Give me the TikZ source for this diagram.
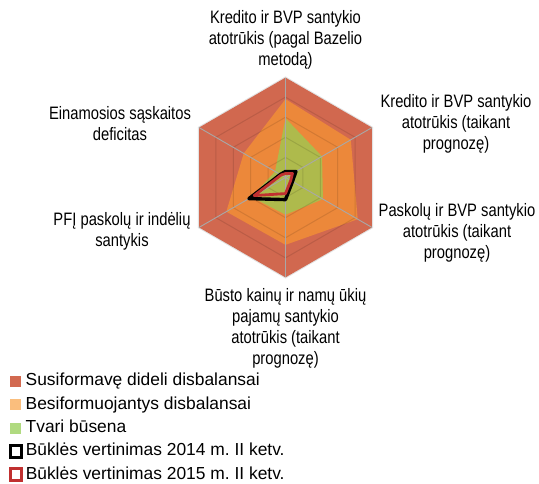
\documentclass[tikz,border=0pt]{standalone}
\usepackage{fontspec}
\setmainfont{Liberation Sans}
\newfontfamily\narrowfont[FakeStretch=0.82]{Liberation Sans}
\usetikzlibrary{positioning}
\frenchspacing

\definecolor{imbred}{RGB}{209,104,79}
\definecolor{imborange}{RGB}{236,136,58}
\definecolor{imbgreen}{RGB}{174,186,76}
\definecolor{legred}{RGB}{210,105,80}
\definecolor{legorange}{RGB}{250,190,125}
\definecolor{leggreen}{RGB}{176,218,128}
\definecolor{darkred15}{RGB}{192,48,48}
\definecolor{spokegray}{RGB}{168,168,168}

\tikzset{
  axislabel/.style={font=\narrowfont\fontsize{18}{21}\selectfont, align=center, inner sep=0pt},
  legtext/.style={font=\fontsize{17.4}{20}\selectfont, anchor=west, inner sep=0pt,
                  text height=12.5pt, text depth=3.6pt},
  legsw/.style={minimum size=11pt, inner sep=0pt},
  legframe/.style={minimum size=11.5pt, inner sep=0pt, line width=3pt, fill=white},
  ring/.style={black, opacity=0.11, line width=1pt},
  spoke/.style={spokegray, line width=0.9pt},
  series/.style={line width=3.4pt, line join=round}
}

\begin{document}
\begin{tikzpicture}[x=1pt, y=1pt, node distance=23.3pt]
\useasboundingbox (0,0) rectangle (539,-484);

\begin{scope}[shift={(285.5,-177.5)}, scale=100.5]
% corners of the hexagon
\coordinate (c) at (0,0);
\coordinate (a1) at (90:1);
\coordinate (a2) at (30:1);
\coordinate (a3) at (-30:1);
\coordinate (a4) at (-90:1);
\coordinate (a5) at (210:1);
\coordinate (a6) at (150:1);

% zones
\fill[imbred] (a1) -- (a2) -- (a3) -- (a4) -- (a5) -- (a6) -- cycle;
\fill[imborange] (90:.78) -- (30:.75) -- (-30:.83) -- (-90:.67) -- (210:.68) -- (150:.48) -- cycle;
\fill[imbgreen] (90:.59) -- (30:.42) -- (-30:.43) -- (-90:.37) -- (210:.39) -- (150:.12) -- cycle;

% grid
\foreach \r in {0.2,0.4,0.6,0.8,1}
  \draw[ring] (90:\r) -- (30:\r) -- (-30:\r) -- (-90:\r) -- (210:\r) -- (150:\r) -- cycle;
\draw[spoke] (a1) -- (a4);
\draw[spoke] (a2) -- (a5);
\draw[spoke] (a3) -- (a6);

% 2014 and 2015
\draw[series, black] (90:.06) -- (30:.12) -- (-30:.08) -- (-90:.22) -- (210:.42) -- (150:.06) -- cycle;
\draw[series, darkred15, line width=2.8pt] (90:.04) -- (30:.08) -- (-30:.06) -- (-90:.16) -- (210:.36) -- (150:.05) -- cycle;
\end{scope}

% axis labels
\node[axislabel] (ltop) at (285.5,-40) {Kredito ir BVP santykio\\atotrūkis (pagal Bazelio\\metodą)};
\node[axislabel] (lur) at (456,-124) {Kredito ir BVP santykio\\atotrūkis (taikant\\prognozę)};
\node[axislabel] (llr) at (457,-233) {Paskolų ir BVP santykio\\atotrūkis (taikant\\prognozę)};
\node[axislabel] (lbot) at (285.5,-328) {Būsto kainų ir namų ūkių\\pajamų santykio\\atotrūkis (taikant\\prognozę)};
\node[axislabel] (lll) at (122,-231) {PFĮ paskolų ir indėlių\\santykis};
\node[axislabel] (lul) at (120,-124) {Einamosios sąskaitos\\deficitas};

% legend
\node[legsw, fill=legred] (sw1) at (15.8,-381.5) {};
\node[legsw, fill=legorange, below of=sw1] (sw2) {};
\node[legsw, fill=leggreen, below of=sw2] (sw3) {};
\node[legframe, draw=black, below of=sw3] (sw4) {};
\node[legframe, draw=darkred15, below of=sw4] (sw5) {};

\node[legtext, right=4pt of sw1] (lg1) {Susiformavę dideli disbalansai};
\node[legtext, right=4pt of sw2] (lg2) {Besiformuojantys disbalansai};
\node[legtext, right=4pt of sw3] (lg3) {Tvari būsena};
\node[legtext, right=2.5pt of sw4] (lg4) {Būklės vertinimas 2014 m. II ketv.};
\node[legtext, right=2.5pt of sw5] (lg5) {Būklės vertinimas 2015 m. II ketv.};
\end{tikzpicture}
\end{document}
